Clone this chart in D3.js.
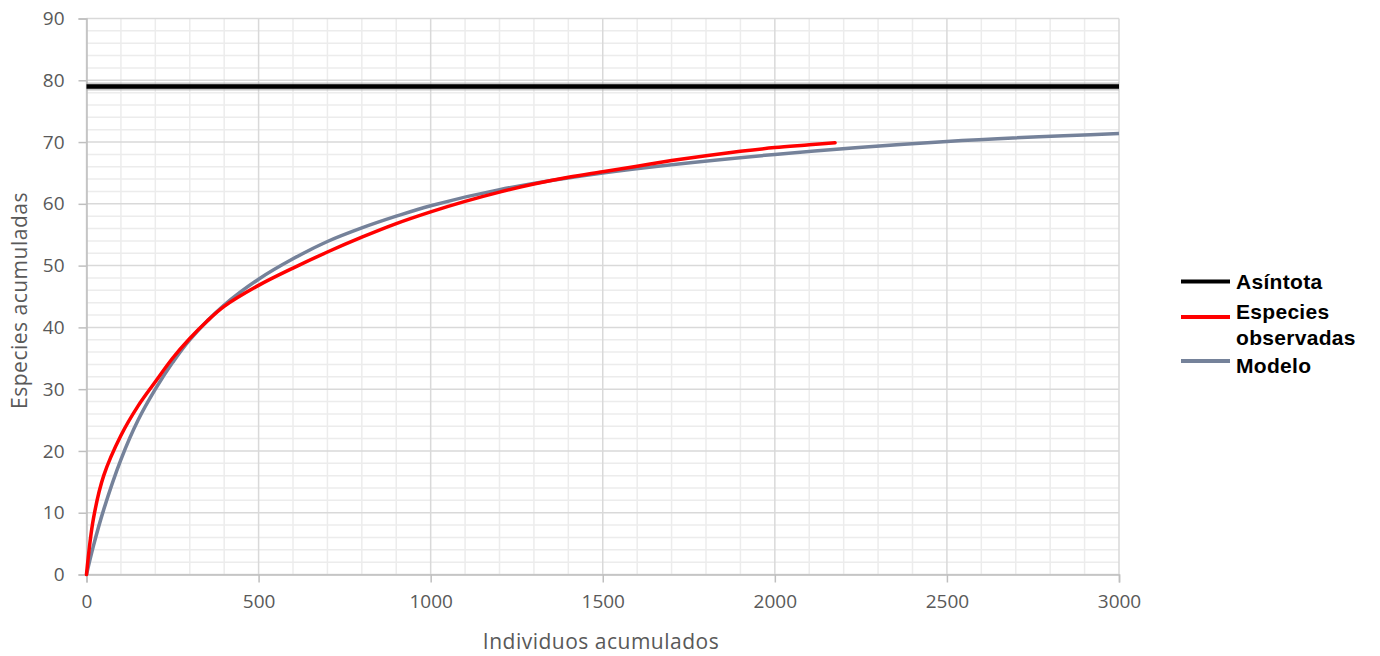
<!DOCTYPE html>
<html>
<head>
<meta charset="utf-8">
<script src="https://cdn.jsdelivr.net/npm/d3@7"></script>
<style>
  body { margin: 0; background: #fff; }
  .tick-label { font-family: 'Open Sans', sans-serif; font-size: 19px; fill: #595959; }
  .axis-title { font-family: 'Open Sans', sans-serif; font-size: 21px; fill: #595959; letter-spacing: 0.5px; }
  .legend-text { font-family: 'Liberation Sans', Arial, sans-serif; font-size: 21px; font-weight: bold; fill: #000; letter-spacing: 0.3px; }
</style>
</head>
<body>
<div id="chart"></div>
<script>
// values
const asymptote = 79;

const observedX = [0, 20, 50, 100, 150, 200, 250, 300, 350, 400, 500, 600, 700, 800, 900, 1000, 1100, 1200, 1300, 1400, 1500, 1600, 1700, 1800, 1900, 2000, 2100, 2175];
const observedY = [0, 9, 16, 22.5, 27.3, 31.2, 35, 38.2, 41, 43.4, 46.8, 49.6, 52.2, 54.6, 56.8, 58.7, 60.4, 61.9, 63.2, 64.3, 65.2, 66.1, 67, 67.8, 68.5, 69.1, 69.55, 69.9];

const modelX = [0, 20, 50, 100, 150, 200, 250, 300, 400, 500, 600, 700, 800, 900, 1000, 1200, 1500, 2000, 2500, 3000];
const modelY = [0, 4.6, 10.5, 18.6, 25, 30, 34.3, 38, 43.6, 47.8, 51.1, 53.9, 56.1, 58, 59.7, 62.3, 65, 68, 70.1, 71.4];

const xTicks = [0, 500, 1000, 1500, 2000, 2500, 3000];
const yTicks = [0, 10, 20, 30, 40, 50, 60, 70, 80, 90];

const legendNames = ['Asíntota', 'Especies observadas', 'Modelo'];
const legendColors = ['#000000', '#ff0000', '#75829a'];

const W = 1380, H = 656;
const margin = { top: 18.5, right: 261, bottom: 81.5, left: 86.5 };
const width = W - margin.left - margin.right;
const height = H - margin.top - margin.bottom;

const svg = d3.select('#chart').append('svg')
  .attr('width', W)
  .attr('height', H);

const g = svg.append('g')
  .attr('transform', `translate(${margin.left},${margin.top})`);

const x = d3.scaleLinear().domain([0, 3000]).range([0, width]);
const y = d3.scaleLinear().domain([0, 90]).range([height, 0]);

// minor grid
g.append('g')
  .selectAll('line')
  .data(d3.range(0, 3001, 100).filter(v => v % 500 !== 0))
  .enter().append('line')
  .attr('x1', d => x(d)).attr('x2', d => x(d))
  .attr('y1', 0).attr('y2', height)
  .style('stroke', '#ececec').style('stroke-width', 1.5);

g.append('g')
  .selectAll('line')
  .data(d3.range(0, 91, 2).filter(v => v % 10 !== 0))
  .enter().append('line')
  .attr('x1', 0).attr('x2', width)
  .attr('y1', d => y(d)).attr('y2', d => y(d))
  .style('stroke', '#ececec').style('stroke-width', 1.5);

// major grid
g.append('g')
  .selectAll('line')
  .data(xTicks)
  .enter().append('line')
  .attr('x1', d => x(d)).attr('x2', d => x(d))
  .attr('y1', 0).attr('y2', height)
  .style('stroke', '#d9d9d9').style('stroke-width', 1.5);

g.append('g')
  .selectAll('line')
  .data(yTicks)
  .enter().append('line')
  .attr('x1', 0).attr('x2', width)
  .attr('y1', d => y(d)).attr('y2', d => y(d))
  .style('stroke', '#d9d9d9').style('stroke-width', 1.5);

// Y axis
const yAxis = g.append('g')
  .call(d3.axisLeft(y).tickValues(yTicks).tickSize(8).tickPadding(14));
yAxis.select('.domain').style('stroke', '#bfbfbf').style('stroke-width', 1.5);
yAxis.selectAll('.tick line').style('stroke', '#bfbfbf').style('stroke-width', 1.5);
yAxis.selectAll('text').attr('class', 'tick-label').attr('font-size', null).attr('font-family', null);

// X axis
const xAxis = g.append('g')
  .attr('transform', `translate(0,${height})`)
  .call(d3.axisBottom(x).tickValues(xTicks).tickFormat(d3.format('d')).tickSize(8).tickPadding(12));
xAxis.select('.domain').style('stroke', '#bfbfbf').style('stroke-width', 1.5);
xAxis.selectAll('.tick line').style('stroke', '#bfbfbf').style('stroke-width', 1.5);
xAxis.selectAll('text').attr('class', 'tick-label').attr('font-size', null).attr('font-family', null);

// asymptote
g.append('line')
  .attr('x1', x(0)).attr('x2', x(3000))
  .attr('y1', y(asymptote)).attr('y2', y(asymptote))
  .style('stroke', '#a6a6a6').style('stroke-width', 8).style('opacity', 0.6);
g.append('line')
  .attr('x1', x(0)).attr('x2', x(3000))
  .attr('y1', y(asymptote)).attr('y2', y(asymptote))
  .style('stroke', legendColors[0]).style('stroke-width', 4.5);

const line = d3.line()
  .x(d => x(d[0]))
  .y(d => y(d[1]))
  .curve(d3.curveCatmullRom.alpha(0.5));

g.append('path')
  .datum(modelX.map((v, i) => [v, modelY[i]]))
  .attr('d', line)
  .style('fill', 'none')
  .style('stroke', legendColors[2])
  .style('stroke-width', 3.5);

g.append('path')
  .datum(observedX.map((v, i) => [v, observedY[i]]))
  .attr('d', line)
  .style('fill', 'none')
  .style('stroke', legendColors[1])
  .style('stroke-width', 3.5)
  .style('stroke-linecap', 'round');

// axis titles
svg.append('text')
  .attr('class', 'axis-title')
  .attr('x', 601)
  .attr('y', 649)
  .style('text-anchor', 'middle')
  .text('Individuos acumulados');

svg.append('text')
  .attr('class', 'axis-title')
  .attr('transform', `translate(27,${margin.top + height / 2 + 4}) rotate(-90)`)
  .style('text-anchor', 'middle')
  .text('Especies acumuladas');

// legend
const legendLines = [['Asíntota'], ['Especies', 'observadas'], ['Modelo']];
const legendY = [281.5, 317, 361];
const legendTextY = [281.5, 312, 366];

const legend = svg.append('g');
legendNames.forEach((name, i) => {
  legend.append('line')
    .attr('x1', 1181).attr('x2', 1230)
    .attr('y1', legendY[i]).attr('y2', legendY[i])
    .style('stroke', legendColors[i])
    .style('stroke-width', 4);
  const t = legend.append('text')
    .attr('class', 'legend-text')
    .attr('x', 1236)
    .attr('y', legendTextY[i]);
  legendLines[i].forEach((w, j) => {
    t.append('tspan').attr('x', 1236).attr('dy', j === 0 ? '0.35em' : '1.2em').text(w);
  });
});
</script>
</body>
</html>
